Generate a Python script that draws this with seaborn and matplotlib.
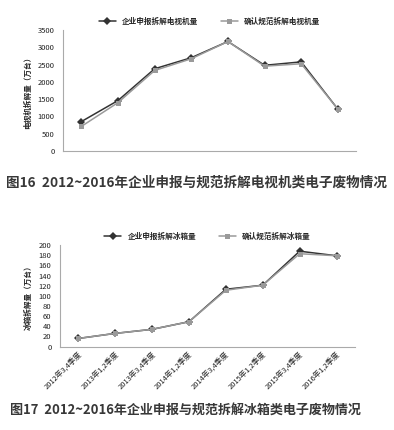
import matplotlib
matplotlib.use("Agg")
import matplotlib.pyplot as plt
import seaborn as sns
import pandas as pd

# TV chart (fig 16)
tv_reported = [850, 1460, 2380, 2700, 3170, 2480, 2580, 1210]
tv_confirmed = [710, 1400, 2330, 2670, 3170, 2455, 2525, 1210]

# fridge chart (fig 17)
quarters = ["2012年3,4季度", "2013年1,2季度", "2013年3,4季度", "2014年1,2季度",
            "2014年3,4季度", "2015年1,2季度", "2015年3,4季度", "2016年1,2季度"]
fr_reported = [16, 26, 34, 49, 113, 121, 188, 179]
fr_confirmed = [16, 26, 34, 49, 111, 121, 183, 179]

sns.set_style("white")
plt.rcParams['font.family'] = ['Noto Sans CJK SC', 'DejaVu Sans']

DARK = "#333333"
GREY = "#9a9a9a"


def draw_panel(ax, reported, confirmed, names, ylabel, ymax, ystep, xlabels):
    df = pd.DataFrame({
        "idx": list(range(len(reported))) * 2,
        "val": reported + confirmed,
        "series": [names[0]] * len(reported) + [names[1]] * len(confirmed),
    })
    sns.lineplot(data=df, x="idx", y="val", hue="series", style="series",
                 palette=[DARK, GREY], markers=["D", "s"], dashes=False,
                 markersize=3.6, linewidth=1.1, markeredgewidth=0, ax=ax)
    ax.set_xlim(-0.5, len(reported) - 0.5)
    ax.set_ylim(0, ymax)
    ax.set_yticks(range(0, ymax + 1, ystep))
    ax.set_xticks(range(len(reported)))
    if xlabels is None:
        ax.set_xticklabels([""] * len(reported))
    else:
        ax.set_xticklabels(xlabels, rotation=45, ha="right", fontsize=5.4,
                           rotation_mode="anchor")
    ax.tick_params(axis="y", labelsize=5.5, length=0, pad=6, colors="#222222")
    ax.tick_params(axis="x", length=0, pad=3, colors="#222222")
    ax.set_xlabel("")
    ax.set_ylabel(ylabel, fontsize=5.5, fontweight="bold", labelpad=4)
    for s in ["top", "right"]:
        ax.spines[s].set_visible(False)
    for s in ["left", "bottom"]:
        ax.spines[s].set_color("#aaaaaa")
        ax.spines[s].set_linewidth(0.8)
    ax.legend(loc="lower center", bbox_to_anchor=(0.5, 1.0), ncol=2,
              frameon=False, handlelength=2.2,
              columnspacing=3, borderaxespad=0.2,
              prop={"weight": "bold", "size": 5.5})


fig = plt.figure(figsize=(3.94, 4.30), dpi=100)

ax1 = fig.add_axes([0.160, 0.649, 0.744, 0.281])
draw_panel(ax1, tv_reported, tv_confirmed,
           ["企业申报拆解电视机量", "确认规范拆解电视机量"],
           "电视机拆解量（万台）", 3500, 500, None)

ax2 = fig.add_axes([0.152, 0.194, 0.749, 0.236])
draw_panel(ax2, fr_reported, fr_confirmed,
           ["企业申报拆解冰箱量", "确认规范拆解冰箱量"],
           "冰箱拆解量（万台）", 200, 20, quarters)

fig.text(6 / 394, 1 - 183 / 430, "图16  2012~2016年企业申报与规范拆解电视机类电子废物情况",
         fontsize=9.8, fontweight="bold", va="center", ha="left", color="#383838")
fig.text(10 / 394, 1 - 410 / 430, "图17  2012~2016年企业申报与规范拆解冰箱类电子废物情况",
         fontsize=9.4, fontweight="bold", va="center", ha="left", color="#383838")

fig.savefig("out.png", dpi=100, facecolor="white")
